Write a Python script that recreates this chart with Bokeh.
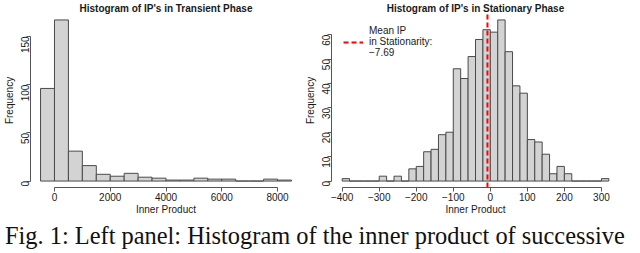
import math
from bokeh.plotting import figure
from bokeh.models import FixedTicker, Div, Legend, LegendItem, Range1d
from bokeh.layouts import column, row
from bokeh.embed import file_html
from bokeh.resources import INLINE

# ---------------- data ----------------
transient_breaks = [-500, 0, 500, 1000, 1500, 2000, 2500, 3000, 3500, 4000,
                    4500, 5000, 5500, 6000, 6500, 7000, 7500, 8000, 8500]
transient_counts = [96, 167, 31, 16, 7, 5, 8, 4, 3, 1, 1, 3, 2, 2, 0, 0, 2, 1]
transient_xticks = [0, 2000, 4000, 6000, 8000]
transient_yticks = [0, 50, 100, 150]

stationary_breaks = [-400, -380, -360, -340, -320, -300, -280, -260, -240, -220,
                     -200, -180, -160, -140, -120, -100, -80, -60, -40, -20,
                     0, 20, 40, 60, 80, 100, 120, 140, 160, 180, 200, 220,
                     240, 260, 280, 300, 320]
stationary_counts = [1, 0, 0, 0, 0, 2, 0, 2, 0, 5, 6, 12, 13, 19, 20, 46, 42,
                     51, 58, 62, 61, 66, 53, 39, 36, 17, 16, 11, 3, 6, 3, 0,
                     0, 0, 0, 1]
stationary_xticks = [-400, -300, -200, -100, 0, 100, 200, 300]
stationary_yticks = [0, 10, 20, 30, 40, 50, 60]
mean_ip = -7.69

titles = ["Histogram of IP's in Transient Phase",
          "Histogram of IP's in Stationary Phase"]
x_label = "Inner Product"
y_label = "Frequency"
legend_label = "Mean IP\nin Stationarity:\n\u22127.69"
caption = "Fig. 1: Left panel: Histogram of the inner product of successive"

FONT = "Liberation Sans"
BAR_FILL = "#d3d3d3"
BAR_LINE = "#4a4a4a"
AXIS_COL = "#555555"
TEXT_COL = "#1a1a1a"


def make_hist(breaks, counts, xticks, yticks, title, width, height,
              min_left, min_right):
    xspan = breaks[-1] - breaks[0]
    ymax = max(counts)
    p = figure(width=width, height=height, output_backend="svg",
               toolbar_location=None,
               x_range=Range1d(breaks[0] - 0.04 * xspan, breaks[-1] + 0.04 * xspan),
               y_range=Range1d(-0.04 * ymax, 1.04 * ymax),
               min_border_left=min_left, min_border_right=min_right,
               min_border_top=0, min_border_bottom=0)
    p.quad(left=breaks[:-1], right=breaks[1:], bottom=0, top=counts,
           fill_color=BAR_FILL, line_color=BAR_LINE, line_width=1)
    p.title.text = title
    p.title.align = "center"
    p.title.text_font = FONT
    p.title.text_font_size = "10px"
    p.title.text_font_style = "bold"
    p.title.text_color = TEXT_COL
    p.title.standoff = 0
    p.title.offset = 0
    p.xgrid.visible = False
    p.ygrid.visible = False
    p.outline_line_color = None
    p.background_fill_color = "white"
    p.border_fill_color = "white"
    for ax, ticks, lab in ((p.xaxis[0], xticks, x_label),
                           (p.yaxis[0], yticks, y_label)):
        ax.ticker = FixedTicker(ticks=ticks)
        ax.bounds = (min(ticks), max(ticks))
        ax.minor_tick_line_color = None
        ax.major_tick_in = 0
        ax.major_tick_out = 4
        ax.axis_line_color = AXIS_COL
        ax.major_tick_line_color = AXIS_COL
        ax.major_label_text_font = FONT
        ax.major_label_text_font_size = "10px"
        ax.major_label_text_color = TEXT_COL
        ax.major_label_standoff = 1
        ax.axis_label = lab
        ax.axis_label_text_font = FONT
        ax.axis_label_text_font_size = "10px"
        ax.axis_label_text_font_style = "normal"
        ax.axis_label_text_color = TEXT_COL
        ax.axis_label_standoff = 0
        ax.major_label_overrides = {t: str(t).replace("-", "\u2212")
                                    for t in ticks if t < 0}
    p.yaxis[0].major_label_orientation = math.pi / 2
    return p


H = 217
left = make_hist(transient_breaks, transient_counts, transient_xticks,
                 transient_yticks, titles[0], 301, H, 0, 0)
right = make_hist(stationary_breaks, stationary_counts, stationary_xticks,
                  stationary_yticks, titles[1], 323, H, 0, 5)

# vertical mean line spanning the full plot region
mean_line = right.line(x=[mean_ip, mean_ip],
                       y=[right.y_range.start, right.y_range.end],
                       line_color="red", line_dash="5 3", line_width=2)
legend = Legend(items=[LegendItem(label=legend_label, renderers=[mean_line])],
                location="top_left", border_line_color=None,
                background_fill_alpha=0, label_text_font=FONT,
                label_text_font_size="10px", label_text_color=TEXT_COL,
                glyph_width=20, label_standoff=6, padding=0, margin=12,
                spacing=0, label_text_line_height=1.1)
right.add_layout(legend)

cap = Div(text=caption, width=632, height=28,
          styles={"font-family": "'Liberation Serif', serif",
                  "font-size": "24.4px", "line-height": "28px",
                  "white-space": "nowrap", "overflow": "hidden",
                  "color": "#111"})

layout = column(row(left, right), cap)
open("out.html", "w").write(file_html(layout, INLINE))
